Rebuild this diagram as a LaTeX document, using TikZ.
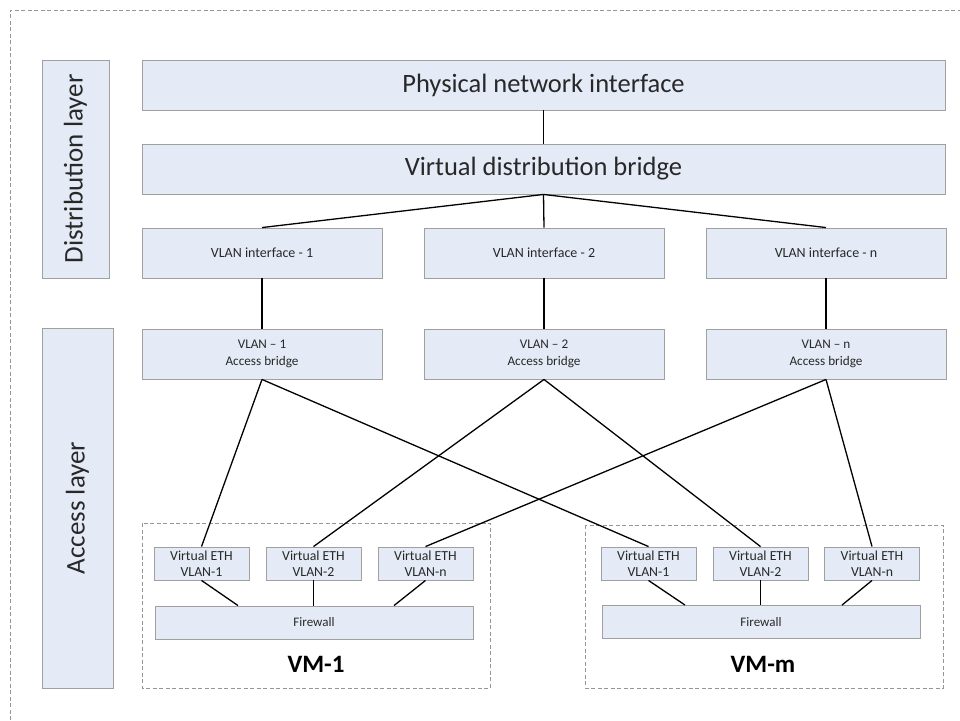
\documentclass[tikz,border=0pt]{standalone}
\usepackage{fontspec}
\setmainfont{Carlito}
\usetikzlibrary{calc}
\definecolor{boxfill}{RGB}{229,235,246}
\definecolor{boxline}{RGB}{160,160,160}
\definecolor{dashline}{RGB}{150,150,150}
\definecolor{txt}{RGB}{40,40,40}
\tikzset{
  box/.style={draw=boxline, fill=boxfill, line width=0.9pt, inner sep=0pt, text=txt, align=center},
  bigbox/.style={box, minimum width=803pt, minimum height=50pt, font=\fontsize{26.5}{30}\selectfont},
  layerbox/.style={box, font=\fontsize{27}{30}\selectfont},
  midbox/.style={box, minimum width=240pt, minimum height=50pt, font=\fontsize{14}{17}\selectfont},
  abbox/.style={box, minimum width=240pt, minimum height=50pt, font=\fontsize{13.2}{17}\selectfont},
  vethbox/.style={box, minimum width=95pt, minimum height=33pt, font=\fontsize{13.8}{15.5}\selectfont},
  fwbox/.style={box, minimum width=318pt, minimum height=33pt, font=\fontsize{13}{15}\selectfont},
  vmframe/.style={draw=dashline, line width=0.8pt, dash pattern=on 4pt off 2.5pt},
  vmlabel/.style={font=\fontsize{25}{28}\selectfont\bfseries, text=black, inner sep=0pt},
  conn/.style={draw=black, line width=1.3pt},
}
\begin{document}
\begin{tikzpicture}[x=1pt, y=-1pt]
\useasboundingbox (0,0) rectangle (960,720);
% outer dashed frame
\draw[vmframe] (10,720) -- (10,10) -- (960,10);

% layer boxes
\node[layerbox, minimum width=67pt, minimum height=218pt] (dist) at (75.5,169) {\rotatebox{90}{Distribution layer}};
\node[layerbox, minimum width=71pt, minimum height=360pt] (acc) at (77.5,508) {\rotatebox{90}{Access layer}};

% top boxes
\node[bigbox] (phys) at (543.5,85) {Physical network interface};
\node[bigbox] (vdb) at (543.5,169) {Virtual distribution bridge};

% VLAN interfaces
\node[midbox] (if1) at (262,253) {VLAN interface - 1};
\node[midbox] (if2) at (544,253) {VLAN interface - 2};
\node[midbox] (ifn) at (826,253) {VLAN interface - n};

% access bridges
\node[abbox] (ab1) at (262,354) {VLAN – 1\\Access bridge};
\node[abbox] (ab2) at (544,354) {VLAN – 2\\Access bridge};
\node[abbox] (abn) at (826,354) {VLAN – n\\Access bridge};

% VM frames
\draw[vmframe] (142,523) rectangle (490,688);
\draw[vmframe] (585,525) rectangle (943,688);

% VM-1
\node[vethbox] (a1) at (201.5,563.5) {Virtual ETH\\VLAN-1};
\node[vethbox] (a2) at (313.5,563.5) {Virtual ETH\\VLAN-2};
\node[vethbox] (an) at (425.5,563.5) {Virtual ETH\\VLAN-n};
\node[fwbox] (fwa) at (314,622.5) {Firewall};
\node[vmlabel] (vm1) at (316,664) {VM-1};

% VM-m
\node[vethbox] (b1) at (648.5,563.5) {Virtual ETH\\VLAN-1};
\node[vethbox] (b2) at (760.5,563.5) {Virtual ETH\\VLAN-2};
\node[vethbox] (bn) at (872,563.5) {Virtual ETH\\VLAN-n};
\node[fwbox] (fwb) at (761,622) {Firewall};
\node[vmlabel] (vmm) at (763,664) {VM-m};

% connectors
\draw[conn] (phys.south) -- (vdb.north);
\draw[conn] (vdb.south) -- (if1.north);
\draw[conn] (vdb.south) -- (if2.north);
\draw[conn] (vdb.south) -- (ifn.north);
\draw[conn] (if1.south) -- (ab1.north);
\draw[conn] (if2.south) -- (ab2.north);
\draw[conn] (ifn.south) -- (abn.north);

\draw[conn] (ab1.south) -- (a1.north);
\draw[conn] (ab1.south) -- (b1.north);
\draw[conn] (ab2.south) -- (a2.north);
\draw[conn] (ab2.south) -- (b2.north);
\draw[conn] (abn.south) -- (an.north);
\draw[conn] (abn.south) -- (bn.north);

\draw[conn] (a1.south) -- ($(fwa.north)+(-76,0)$);
\draw[conn] (a2.south) -- (a2.south |- fwa.north);
\draw[conn] (an.south) -- ($(fwa.north)+(80,0)$);
\draw[conn] (b1.south) -- ($(fwb.north)+(-76,0)$);
\draw[conn] (b2.south) -- (b2.south |- fwb.north);
\draw[conn] (bn.south) -- ($(fwb.north)+(81,0)$);
\end{tikzpicture}
\end{document}
